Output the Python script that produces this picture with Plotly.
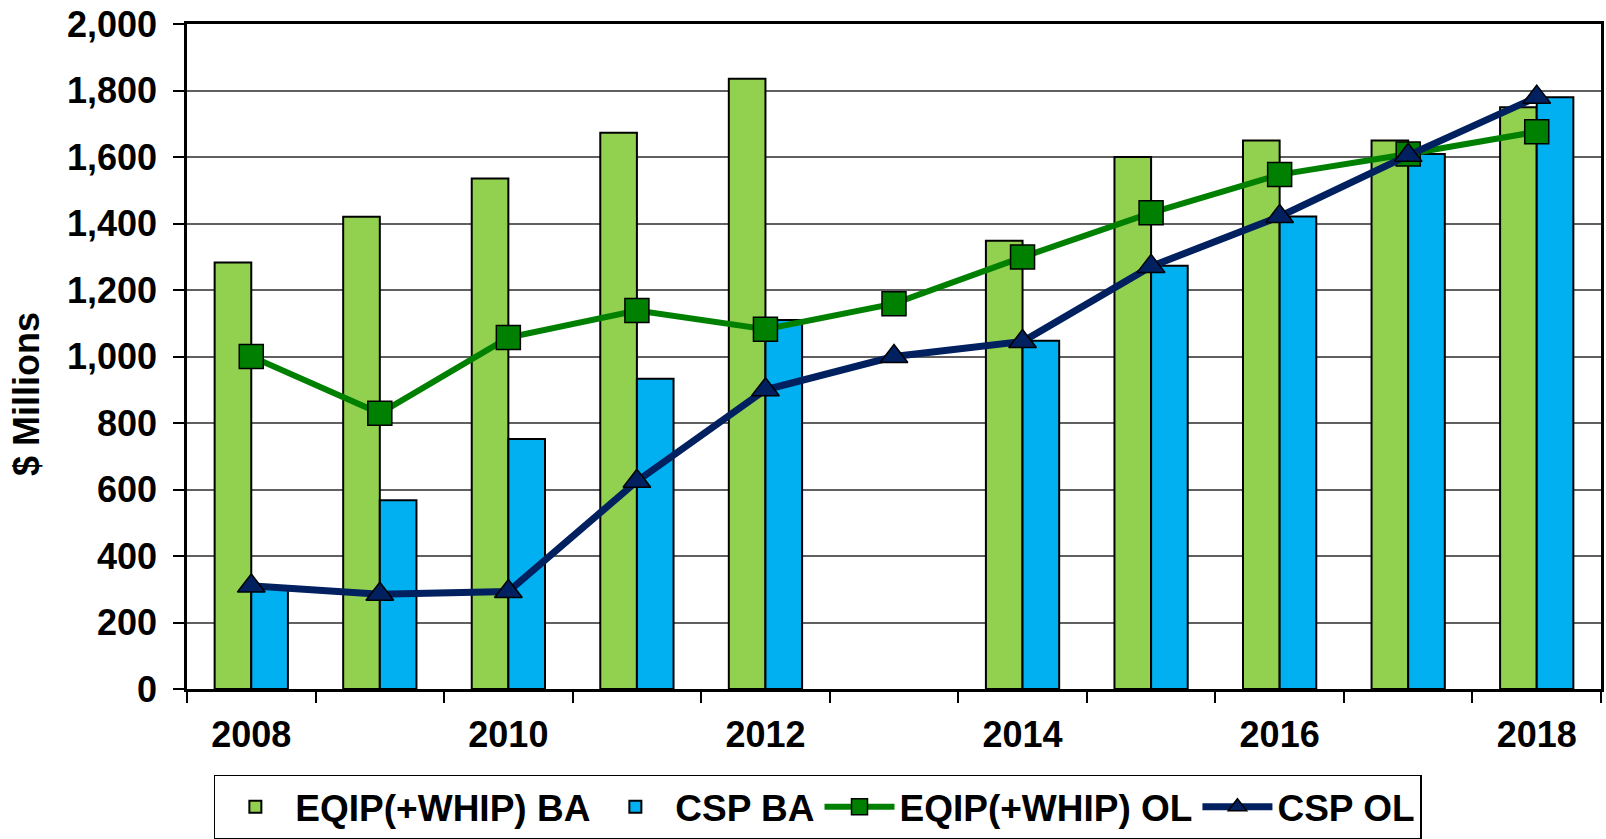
import plotly.graph_objects as go

years = [2008, 2009, 2010, 2011, 2012, 2013, 2014, 2015, 2016, 2017, 2018]
eqip_ba = [1283, 1420, 1535, 1673, 1835, None, 1348, 1600, 1650, 1650, 1750]
csp_ba = [305, 568, 752, 933, 1110, None, 1047, 1273, 1421, 1609, 1780]
eqip_ol = [1000, 829, 1057, 1138, 1082, 1159, 1299, 1432, 1547, 1609, 1676]
csp_ol = [310, 285, 293, 625, 900, 1000, 1045, 1271, 1421, 1605, 1780]
year_labels = ["2008", "2010", "2012", "2014", "2016", "2018"]
y_ticks = [0, 200, 400, 600, 800, 1000, 1200, 1400, 1600, 1800, 2000]

FONT = "Liberation Sans, Arial, sans-serif"

fig = go.Figure()
fig.add_trace(go.Bar(
    x=years, y=eqip_ba, name="EQIP(+WHIP) BA",
    marker=dict(color="#92D050", line=dict(color="black", width=2)),
))
fig.add_trace(go.Bar(
    x=years, y=csp_ba, name="CSP BA",
    marker=dict(color="#00B0F0", line=dict(color="black", width=2)),
))
fig.add_trace(go.Scatter(
    x=years, y=eqip_ol, name="EQIP(+WHIP) OL", mode="lines+markers",
    line=dict(color="#008000", width=6),
    marker=dict(symbol="square", size=24, color="#008000",
                line=dict(color="black", width=1.5)),
))
fig.add_trace(go.Scatter(
    x=years, y=csp_ol, name="CSP OL", mode="lines+markers",
    line=dict(color="#002060", width=7),
    marker=dict(symbol="triangle-up", size=24, color="#002060",
                line=dict(color="black", width=1.5)),
))

boundaries = [y - 0.5 for y in years] + [years[-1] + 0.5]

fig.update_layout(
    width=1606, height=839,
    margin=dict(l=187, r=5, t=24, b=150, autoexpand=False),
    paper_bgcolor="white", plot_bgcolor="white",
    barmode="group", bargap=0.43, bargroupgap=0,
    font=dict(family=FONT, size=36, color="black", weight="bold"),
    showlegend=True,
    legend=dict(
        orientation="h", x=0.019, y=-0.129, xanchor="left", yanchor="top",
        bordercolor="black", borderwidth=1.5, bgcolor="white",
        font=dict(family=FONT, size=37, color="black", weight="bold"),
        itemwidth=70, traceorder="normal",
    ),
    xaxis=dict(
        range=[years[0] - 0.5, years[-1] + 0.5],
        tickvals=[int(v) for v in year_labels], ticktext=year_labels,
        ticks="", showgrid=False, zeroline=False,
        showline=True, linecolor="black", linewidth=2.5, mirror=True,
        ticklabelstandoff=12,
        minor=dict(tickvals=boundaries, ticks="outside", ticklen=11,
                   tickcolor="black", tickwidth=1.5, showgrid=False),
        tickfont=dict(family=FONT, size=36, color="black", weight="bold"),
    ),
    yaxis=dict(
        range=[0, 2000], tickvals=y_ticks, tickformat=",",
        ticks="outside", ticklen=11, tickcolor="black", tickwidth=1.5,
        ticklabelstandoff=9,
        showgrid=True, gridcolor="#606060", gridwidth=1.6,
        zeroline=False,
        showline=True, linecolor="black", linewidth=2.5, mirror=True,
        tickfont=dict(family=FONT, size=36, color="black", weight="bold"),
    ),
    annotations=[dict(
        text="$ Millions", textangle=-90, xref="paper", yref="paper",
        x=-0.113, y=0.444, xanchor="center", yanchor="middle",
        showarrow=False,
        font=dict(family=FONT, size=36, color="black", weight="bold"),
    )],
)

fig.write_html("out.html", config={"displayModeBar": False},
               post_script="document.body.style.margin='0px';")
